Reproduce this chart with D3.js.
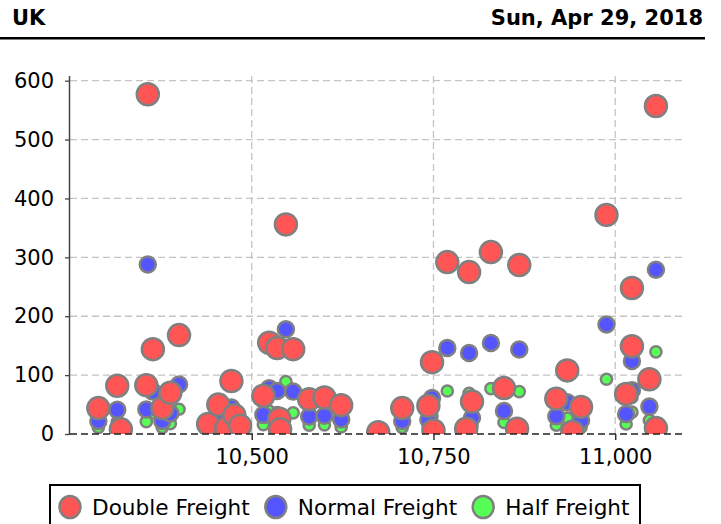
<!DOCTYPE html>
<html>
<head>
<meta charset="utf-8">
<script src="https://cdn.jsdelivr.net/npm/d3@7"></script>
<style>
  html, body { margin: 0; padding: 0; background: #fff; }
  svg { display: block; font-family: "DejaVu Sans", sans-serif; }
</style>
</head>
<body>
<svg id="chart" width="721" height="524"></svg>
<script>
const titleLeft = "UK";
const titleRight = "Sun, Apr 29, 2018";
const seriesNames = ["Double Freight", "Normal Freight", "Half Freight"];
const seriesColors = ["#ff5555", "#5555ff", "#55ff55"];
const xValues = [10289,10315,10320,10355,10357,10364,10377,10388,10400,10440,10454,10465,10472,10476,10484,10516,10524,10535,10538,10539,10547,10557,10579,10600,10623,10674,10707,10743,10748,10750,10769,10795,10799,10803,10829,10847,10865,10868,10919,10934,10941,10953,10988,11015,11023,11023,11047,11056,11056];
const doubleFreight = [44,82,8,83,577,144,44,70,168,17,50,10,90,32,14,65,155,146,26,8,356,144,59,62,49,3,44,48,122,6,292,9,275,55,309,78,9,287,60,108,4,46,372,68,248,149,93,557,10];
const normalFreight = [22,41,4,41.5,288,72,22,35,84,8.5,25,5,45,16,7,32.5,77.5,73,13,4,178,72,29.5,31,24.5,1.5,22,24,61,3,146,4.5,137.5,27.5,154.5,39,4.5,143.5,30,54,2,23,186,34,124,74.5,46.5,279,5];
const halfFreight = [11,20.5,2,21,144,36,11,17.5,42,4,12.5,2.5,22.5,8,3.5,16,39,36.5,6.5,2,89,36,15,15.5,12,0.75,11,12,30.5,1.5,73,2,69,14,77,19.5,2,72,15,27,1,11.5,93,17,62,37,23,139.5,2.5];
const yTicks = [0,100,200,300,400,500,600];
const xTicks = [10500,10750,11000];

const svg = d3.select("#chart");
const L = 70, R = 685, T = 76, B = 434;
const x = d3.scaleLinear().domain([10250, 11096]).range([L, R]);
const y = d3.scaleLinear().domain([0, 608]).range([B, T]);

// Header
svg.append("text").attr("x", 12).attr("y", 25).attr("font-size", 21).attr("font-weight", "bold").text(titleLeft);
svg.append("text").attr("x", 703).attr("y", 25).attr("text-anchor", "end").attr("font-size", 21).attr("font-weight", "bold").text(titleRight);
svg.append("line").attr("x1", 0).attr("x2", 705).attr("y1", 38.3).attr("y2", 38.3).attr("stroke", "#000").attr("stroke-width", 2.5);

// Gridlines
const grid = svg.append("g");
grid.selectAll(".hg").data(yTicks.filter(d => d > 0)).join("line")
  .attr("x1", L).attr("x2", R).attr("y1", d => y(d)).attr("y2", d => y(d))
  .attr("stroke", "#c4c4c4").attr("stroke-width", 1.3).attr("stroke-dasharray", "7,4");
grid.selectAll(".vg").data(xTicks).join("line")
  .attr("x1", d => x(d)).attr("x2", d => x(d)).attr("y1", T).attr("y2", B)
  .attr("stroke", "#c4c4c4").attr("stroke-width", 1.3).attr("stroke-dasharray", "7,4");

// Clip
svg.append("defs").append("clipPath").attr("id", "plotclip").append("rect")
  .attr("x", L).attr("y", T - 15).attr("width", R - L).attr("height", B - T + 15);

const plot = svg.append("g").attr("clip-path", "url(#plotclip)");
const series = [doubleFreight, normalFreight, halfFreight];
const radii = [11, 8, 5.6];
// render in reverse order so Double Freight is on top
[2, 1, 0].forEach(s => {
  plot.append("g").selectAll("circle").data(series[s]).join("circle")
    .attr("cx", (d, i) => x(xValues[i]))
    .attr("cy", d => y(d))
    .attr("r", radii[s])
    .attr("fill", seriesColors[s])
    .attr("stroke", "#808080")
    .attr("stroke-width", 2.5);
});

// Zero baseline (dashed dark)
svg.append("line").attr("x1", L).attr("x2", R).attr("y1", B).attr("y2", B)
  .attr("stroke", "#222").attr("stroke-width", 1.3).attr("stroke-dasharray", "7,4");

// Y axis
const yAxis = d3.axisLeft(y).tickValues(yTicks).tickSize(5).tickPadding(11);
const gy = svg.append("g").attr("transform", `translate(${L},0)`).call(yAxis);
gy.select(".domain").attr("d", `M-0.5,${T}V${B}`).attr("stroke", "#444").attr("stroke-width", 1.5);
gy.selectAll(".tick line").attr("stroke", "#444").attr("stroke-width", 1.3);
gy.selectAll(".tick text").attr("font-size", 21).attr("font-family", "DejaVu Sans").attr("fill", "#000");

// X axis
const xAxis = d3.axisBottom(x).tickValues(xTicks).tickFormat(d3.format(",")).tickSize(6).tickPadding(9);
const gx = svg.append("g").attr("transform", `translate(0,${B})`).call(xAxis);
gx.select(".domain").remove();
gx.selectAll(".tick line").attr("stroke", "#333").attr("stroke-width", 1.5);
gx.selectAll(".tick text").attr("font-size", 21).attr("font-family", "DejaVu Sans").attr("fill", "#000");

// Legend
const lg = svg.append("g");
lg.append("rect").attr("x", 50).attr("y", 485).attr("width", 590).attr("height", 60)
  .attr("fill", "#fff").attr("stroke", "#000").attr("stroke-width", 2);
let cx = 70;
seriesNames.forEach((name, i) => {
  lg.append("ellipse").attr("cx", cx).attr("cy", 507).attr("rx", 10.5).attr("ry", 11)
    .attr("fill", seriesColors[i]).attr("stroke", "#808080").attr("stroke-width", 2.5);
  const t = lg.append("text").attr("x", cx + 22).attr("y", 514.5).attr("font-size", 21.6).text(name);
  const w = t.node().getComputedTextLength();
  cx = cx + 22 + w + 26;
});
</script>
</body>
</html>
